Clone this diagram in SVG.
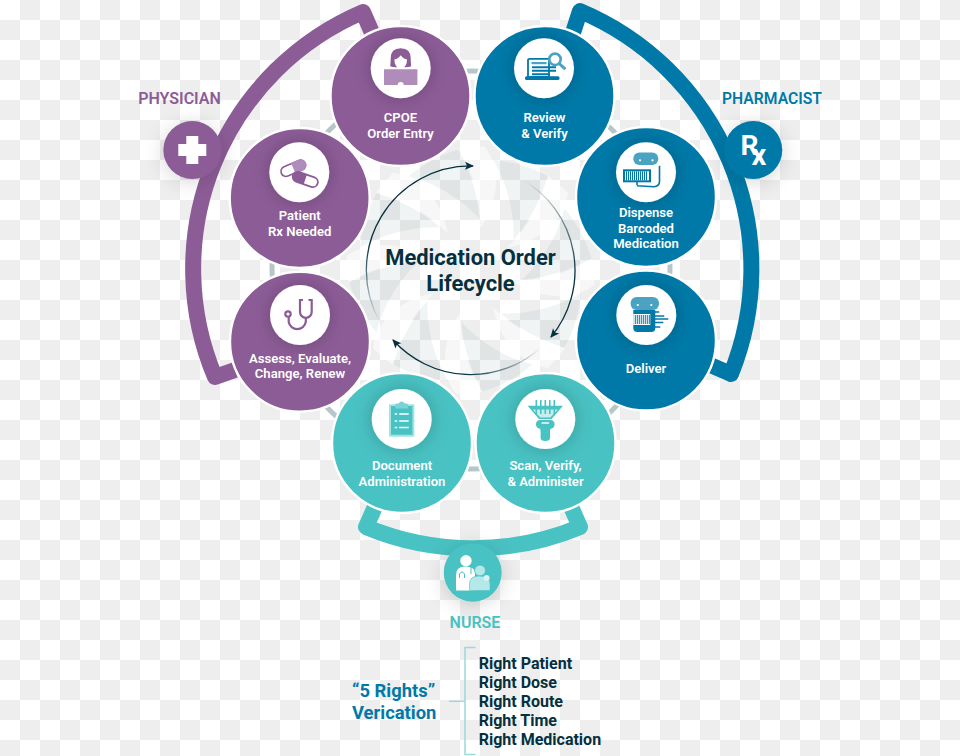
<svg xmlns="http://www.w3.org/2000/svg" width="960" height="756" viewBox="0 0 960 756">
<style>
text{font-family:Roboto,"Liberation Sans",sans-serif;font-weight:700}
.lab{fill:#fff;font-size:13.1px;text-anchor:middle;font-weight:600}
.title{fill:#05303f;font-size:21.900px;text-anchor:middle}
.right{fill:#05303f;font-size:16px}
.ver{fill:#0079a8;font-size:18.400px}
.role{font-size:16px;text-anchor:middle;font-weight:600}
.arc{fill:none;stroke-width:16;stroke-linejoin:round}
.ring{fill:#fff;filter:url(#glow)}
.badge{filter:url(#soft)}
.nd{stroke:#fff;stroke-width:2.400}
.p{fill:#8c5c97}.b{fill:#0079a8}.t{fill:#49c2c3}
.blade{fill:#5f7f80;opacity:.085}
.wblade{fill:#fff;opacity:.5}
</style>
<defs>
<pattern id="chk" width="40" height="40" patternUnits="userSpaceOnUse">
<rect width="40" height="40" fill="#fff"/>
<rect x="20" width="20" height="20" fill="#eee"/>
<rect y="20" width="20" height="20" fill="#eee"/>
</pattern>
<filter id="glow" x="-60%" y="-60%" width="220%" height="220%"><feDropShadow dx="0" dy="0" stdDeviation="9" flood-color="#000" flood-opacity=".22"/></filter>
<filter id="soft" x="-70%" y="-70%" width="240%" height="240%"><feDropShadow dx="0" dy="3" stdDeviation="10" flood-color="#000" flood-opacity=".16"/></filter>
<marker id="head" markerUnits="userSpaceOnUse" markerWidth="12" markerHeight="10" refX="7" refY="4" orient="auto" overflow="visible"><path d="M-1,0 L8,4 L-1,8 L1,4 Z" fill="#05303f"/></marker>
<linearGradient id="fa" gradientUnits="userSpaceOnUse" x1="380" y1="322" x2="368" y2="245"><stop offset="0" stop-color="#05303f" stop-opacity="0"/><stop offset="1" stop-color="#05303f"/></linearGradient>
<linearGradient id="fb" gradientUnits="userSpaceOnUse" x1="523" y1="180" x2="575" y2="275"><stop offset="0" stop-color="#05303f" stop-opacity="0"/><stop offset="1" stop-color="#05303f"/></linearGradient>
<linearGradient id="fc" gradientUnits="userSpaceOnUse" x1="541" y1="347" x2="465" y2="375"><stop offset="0" stop-color="#05303f" stop-opacity="0"/><stop offset="1" stop-color="#05303f"/></linearGradient>
<path id="bl" d="M9,-52 C7,-80 -3,-105 -12,-121 C-30,-116 -48,-106 -62,-94 C-36,-88 -10,-72 9,-52 Z"/>
<path id="wb" d="M10,-42 C30,-70 30,-105 14,-124 L-12,-122 C2,-100 10,-72 10,-42 Z"/>
</defs>
<rect width="960" height="756" fill="url(#chk)"/>

<!-- pinwheel watermark behind the lifecycle title -->
<g id="swirl" transform="translate(470.500 270.400)">
<use href="#wb" class="wblade"/><use href="#wb" class="wblade" transform="rotate(45)"/><use href="#wb" class="wblade" transform="rotate(90)"/><use href="#wb" class="wblade" transform="rotate(135)"/><use href="#wb" class="wblade" transform="rotate(180)"/><use href="#wb" class="wblade" transform="rotate(225)"/><use href="#wb" class="wblade" transform="rotate(270)"/><use href="#wb" class="wblade" transform="rotate(315)"/>
<use href="#bl" class="blade"/><use href="#bl" class="blade" transform="rotate(45)"/><use href="#bl" class="blade" transform="rotate(90)"/><use href="#bl" class="blade" transform="rotate(135)"/><use href="#bl" class="blade" transform="rotate(180)"/><use href="#bl" class="blade" transform="rotate(225)"/><use href="#bl" class="blade" transform="rotate(270)"/><use href="#bl" class="blade" transform="rotate(315)"/>
</g>

<g id="connectors">
<circle cx="471" cy="270" r="199" fill="none" stroke="#b7c6c9" stroke-width="5"/>
<path class="arc" stroke="#8c5c97" d="M235,370 L215,377 A279,279 0 0 1 363,12 L376,42"/>
<path class="arc" stroke="#0079a8" d="M570,42 L580,11 A280,280 0 0 1 731,374 L708,364"/>
<path class="arc" stroke="#49c2c3" d="M378,500 L366,527 A279,279 0 0 0 580,527 L568,500"/>
<path fill="none" stroke="url(#fa)" stroke-width="1.300" marker-end="url(#head)" d="M380,322 A104.500,104.500 0 0 1 473,165.900"/>
<path fill="none" stroke="url(#fb)" stroke-width="1.300" marker-end="url(#head)" d="M523,180 A104.500,104.500 0 0 1 551,337"/>
<path fill="none" stroke="url(#fc)" stroke-width="1.300" marker-end="url(#head)" d="M541,347.400 A104.500,104.500 0 0 1 393,340"/>
<path fill="none" stroke="#9cd9dc" stroke-width="1.500" d="M475.500,647.500 H465 V754.500 H475.500 M449,701.300 H465"/>
</g>

<g id="title"><text class="title" x="470.500" y="265">Medication Order</text><text class="title" x="470.500" y="291">Lifecycle</text></g>

<g id="physician">
<circle class="p badge" cx="192.300" cy="150" r="29"/>
<path fill="#fff" d="M186.300,136 h12 v8 h8 v12 h-8 v8 h-12 v-8 h-8 v-12 h8 z"/>
<text class="role" fill="#8c5c97" x="179.500" y="104">PHYSICIAN</text>
</g>
<g id="pharmacist">
<circle class="b badge" cx="753.300" cy="150" r="29"/>
<text fill="#fff" font-size="28" x="740.500" y="155">R<tspan font-size="29" dx="-7" dy="10">x</tspan></text>
<text class="role" fill="#0079a8" x="772" y="104" style="font-size:15.700px">PHARMACIST</text>
</g>
<g id="nurse">
<circle class="t badge" cx="472.700" cy="572.700" r="29"/>
<circle cx="466" cy="560.700" r="5.700" fill="#fff"/>
<path fill="#fff" d="M456,590.500 V575 Q456,566.500 465,566.500 Q475,566.500 475,573 V590.500 Z"/>
<path fill="none" stroke="#49c2c3" stroke-width="1" d="M459.500,578 V574 Q462,570 464.500,574 V578 M471,567 V574"/>
<circle cx="480" cy="570.500" r="5.300" fill="#b5e8e8" stroke="#49c2c3" stroke-width=".6"/>
<path fill="#b5e8e8" stroke="#49c2c3" stroke-width=".6" d="M469.500,590.500 V584 Q469.500,576 479,576 Q490,576 490,584 V590.500 Z"/>
<circle cx="486.500" cy="578" r="3" fill="#d9f3f3"/>
<text class="role" fill="#49c2c3" x="475" y="628">NURSE</text>
</g>

<g id="node-cpoe">
<circle class="p nd" cx="400.500" cy="96" r="70"/>
<circle class="ring" cx="400.700" cy="68.300" r="30"/>
<g transform="translate(400.700 68.300)">
<path class="p" d="M-10.500,-2 Q-10,-6 -10,-10 Q-10,-20 0,-20 Q10,-20 10,-10 Q10,-6 10.500,-2 Q8,-1 5,-1 H-5 Q-8,-1 -10.500,-2 Z"/>
<path fill="#fff" d="M-6.200,-9 Q-3,-9 0,-13 Q3,-9 6.200,-9 Q6.500,-4 3.500,-1 V0 H-3.500 V-1 Q-6.500,-4 -6.200,-9 Z"/>
<path fill="#b08cba" d="M-16.700,1 H16.700 V16.700 H3 A3,3 0 0 0 -3,16.700 H-16.700 Z"/>
</g>
<text class="lab" x="400.500" y="122">CPOE</text><text class="lab" x="400.500" y="138">Order Entry</text>
</g>

<g id="node-patient">
<circle class="p nd" cx="299.700" cy="198" r="70"/>
<circle class="ring" cx="299.300" cy="172.300" r="30"/>
<g transform="translate(299.300 172.300) ">
<g transform="rotate(-23 -6 -4)"><rect x="-19" y="-9" width="26" height="10" rx="5" fill="#fff" stroke="#8c5c97" stroke-width="1.600"/><path fill="#b08cba" d="M-6,-9.800 H2 A5.800,5.800 0 0 1 2,1.800 H-6 Z"/></g>
<g transform="rotate(19 5.500 7)"><rect x="-7" y="2" width="26" height="10" rx="5" fill="#fff" stroke="#8c5c97" stroke-width="1.800"/><path class="p" d="M-7,7 A5,5 0 0 1 -2,2 H6 V12 H-2 A5,5 0 0 1 -7,7 Z"/></g>
</g>
<text class="lab" x="299.700" y="220">Patient</text><text class="lab" x="299.700" y="236">Rx Needed</text>
</g>

<g id="node-assess">
<circle class="p nd" cx="300" cy="341.700" r="70"/>
<circle class="ring" cx="300" cy="315" r="30"/>
<g transform="translate(300 315)" fill="none" stroke="#8c5c97" stroke-width="2.200">
<path d="M3,-15 H0 V-3 A5.800,5.800 0 0 0 11.700,-3 V-15 H8.500"/>
<path d="M5.800,3 V7 A8.700,8.700 0 0 1 -11.300,7 V1"/>
<circle cx="-12" cy="-1" r="2.700"/>
</g>
<text class="lab" x="300" y="362.700">Assess, Evaluate,</text><text class="lab" x="300" y="378">Change, Renew</text>
</g>

<g id="node-document">
<circle class="t nd" cx="402" cy="443" r="70"/>
<circle class="ring" cx="401.700" cy="419" r="30"/>
<g transform="translate(401.700 419)">
<rect x="-12.700" y="-14.700" width="25.400" height="32.400" rx="1" fill="#a5e2e2"/>
<rect x="-10.700" y="-13" width="21.400" height="28.700" class="t"/>
<path fill="#7cd3d3" d="M-6.500,-10.500 V-14 Q-6.500,-15.500 -5,-15.500 H-3 A3.200,3.200 0 0 1 3,-15.500 H5 Q6.500,-15.500 6.500,-14 V-10.500 Z"/>
<path stroke="#fff" stroke-width="1.300" d="M-7,-5 h2.500 M-2.500,-5 h9.500 M-7,2 h2.500 M-2.500,2 h9.500 M-7,8.500 h2.500 M-2.500,8.500 h9.500"/>
</g>
<text class="lab" x="402" y="469.500">Document</text><text class="lab" x="402" y="485.700">Administration</text>
</g>

<g id="node-scan">
<circle class="t nd" cx="545.500" cy="443" r="70"/>
<circle class="ring" cx="545.300" cy="419" r="30"/>
<g transform="translate(545.300 419)">
<path class="t" d="M-17.700,-13.300 H17.700 L6.300,0 H-6.300 Z"/>
<path fill="#c7eeee" d="M-12.500,-9.500 H12.500 L5,-1.500 H-5 Z"/>
<path stroke="#49c2c3" stroke-width="1.600" d="M-9,-19 V-5 M-4.500,-19 V-5 M0,-19 V-5 M4.500,-19 V-5 M9,-19 V-5"/>
<path class="t" d="M-9.300,5.500 Q-9.300,1 -5,1 H5 Q9.300,1 9.300,5.500 Q9.300,9 5,10 L4.700,13 V19 Q4.700,22 0,22 Q-4.700,22 -4.700,19 V13 L-5,10 Q-9.300,9 -9.300,5.500 Z"/>
<rect x="-4" y="3" width="8" height="2" rx="1" fill="#c7eeee"/>
</g>
<text class="lab" x="545.500" y="469.500">Scan, Verify,</text><text class="lab" x="545.500" y="485.700">&amp; Administer</text>
</g>

<g id="node-deliver">
<circle class="b nd" cx="646" cy="340.500" r="70"/>
<circle class="ring" cx="646.300" cy="315" r="30"/>
<g transform="translate(646.300 315)">
<rect x="-15.700" y="-18" width="28.400" height="13" rx="6" fill="#4ba3c3"/>
<circle cx="-8.500" cy="-10" r="1.100" fill="#fff"/><circle cx="5" cy="-10" r="1.100" fill="#fff"/>
<path class="b" d="M-13,-5 H9 V13 Q9,17 5,17 H-9 Q-13,17 -13,13 Z"/>
<rect x="-13" y="-1" width="17" height="11" fill="#fff"/>
<path stroke="#0079a8" stroke-width="1" d="M-11,0 V9 M-9,0 V9 M-7,0 V9 M-5,0 V9 M-3,0 V9 M-1,0 V9 M1,0 V9 M3,0 V9"/>
<path stroke="#0079a8" stroke-width="1.500" d="M8,-3 h5 M8,1 h10 M6,4 h16 M8,7.500 h9 M8,12 h6"/>
</g>
<text class="lab" x="646" y="372.700">Deliver</text>
</g>

<g id="node-dispense">
<circle class="b nd" cx="646" cy="197" r="70"/>
<circle class="ring" cx="646" cy="172.300" r="30"/>
<g transform="translate(646 172.300)">
<rect x="-12.700" y="-19.700" width="25" height="12.500" rx="6" fill="#4ba3c3"/>
<circle cx="-6" cy="-12" r="1.100" fill="#fff"/><circle cx="6.500" cy="-12" r="1.100" fill="#fff"/>
<path fill="none" stroke="#0079a8" stroke-width="1.600" d="M13.500,-6.500 V9 Q13.500,14 8,14.500 L-9,13.500 M-9,8 V13"/>
<rect x="-23" y="-3" width="28" height="13" class="b"/>
<rect x="-21" y="-1" width="24" height="9" fill="#fff"/>
<path stroke="#0079a8" stroke-width="1" d="M-19.500,-1 V8 M-17.500,-1 V8 M-15.500,-1 V8 M-13.500,-1 V8 M-11.500,-1 V8 M-9.500,-1 V8 M-7.500,-1 V8 M-5.500,-1 V8 M-3.500,-1 V8 M-1.500,-1 V8 M.5,-1 V8"/>
</g>
<text class="lab" x="646" y="217">Dispense</text><text class="lab" x="646" y="232.500">Barcoded</text><text class="lab" x="646" y="248">Medication</text>
</g>

<g id="node-review">
<circle class="b nd" cx="544.500" cy="96" r="70"/>
<circle class="ring" cx="544" cy="68.300" r="30"/>
<g transform="translate(544 68.300)">
<path fill="#fff" stroke="#0079a8" stroke-width="1.800" d="M-16,8.500 V-8 Q-16,-9.500 -14,-9.500 H5 V8.500 Z"/>
<rect x="-19" y="8" width="34.500" height="3.600" rx="1.500" class="b"/>
<rect x="-12.500" y="-6.300" width="15" height="2.200" fill="#4ba3c3"/>
<path stroke="#0079a8" stroke-width="2" d="M-12,-1 H12 M-12,2.500 H12 M-12,6 H6"/>
<circle cx="11" cy="-9" r="5.700" fill="#fff" stroke="#4ba3c3" stroke-width="2.600"/>
<path stroke="#4ba3c3" stroke-width="3" stroke-linecap="round" d="M15.500,-4.500 L20.500,0"/>
</g>
<text class="lab" x="544.500" y="122">Review</text><text class="lab" x="544.500" y="138">&amp; Verify</text>
</g>

<g id="rights">
<text class="ver" x="352" y="697.300">“5 Rights”</text>
<text class="ver" x="352" y="719">Verication</text>
<text class="right" x="478.700" y="668.500">Right Patient</text>
<text class="right" x="478.700" y="687.500">Right Dose</text>
<text class="right" x="478.700" y="706.700">Right Route</text>
<text class="right" x="478.700" y="725.700">Right Time</text>
<text class="right" x="478.700" y="745">Right Medication</text>
</g>
</svg>
